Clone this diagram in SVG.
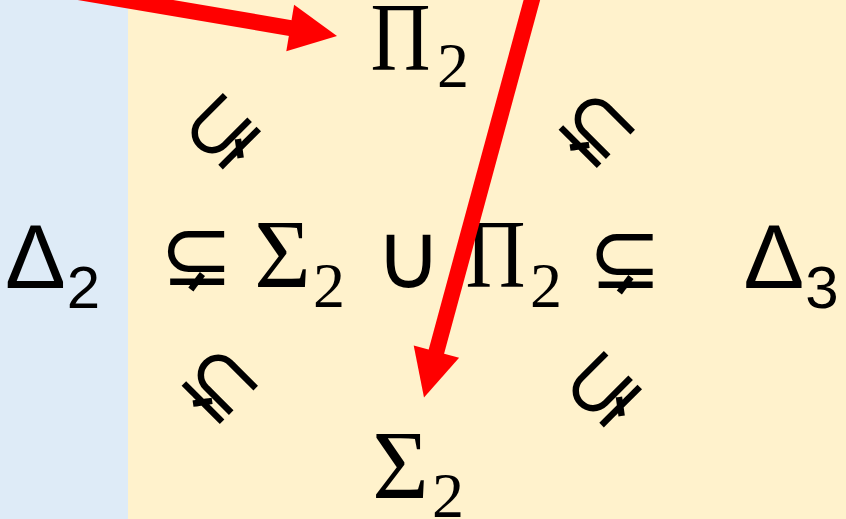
<svg xmlns="http://www.w3.org/2000/svg" width="846" height="519" viewBox="0 0 846 519">
<style>
.serif{font-family:"Liberation Serif","Times New Roman",serif;fill:#000}
.sans{font-family:"Liberation Sans",Arial,sans-serif;fill:#000}
.sym{font-family:"DejaVu Sans",sans-serif;fill:#000}
.big{font-size:97px}
.sub{font-size:64px}
.dbig{font-size:91px}
.dsub{font-size:60px}
.rel{font-size:88px}
.cup{font-size:92px}
.shaft{stroke:#FF0000;stroke-width:16;fill:none}
.head{fill:#FF0000}
</style>
<rect x="0" y="0" width="128" height="519" fill="#DEEBF7"/>
<rect x="128" y="0" width="718" height="519" fill="#FFF2CC"/>
<g id="pi2-top">
<text class="serif big" x="400.5" y="70" text-anchor="middle" textLength="60" lengthAdjust="spacingAndGlyphs">Π</text>
<text class="serif sub" x="453" y="87" text-anchor="middle">2</text>
</g>
<g id="sigma2-bottom">
<text class="serif big" x="400.5" y="498" text-anchor="middle">Σ</text>
<text class="serif sub" x="448" y="517" text-anchor="middle">2</text>
</g>
<g id="delta2">
<text class="sans dbig" x="35.5" y="288" text-anchor="middle">Δ</text>
<text class="sans dsub" x="83.5" y="308" text-anchor="middle">2</text>
</g>
<g id="middle">
<text class="sym rel" x="196.5" y="285" text-anchor="middle">⊊</text>
<text class="serif big" x="282.5" y="287" text-anchor="middle">Σ</text>
<text class="serif sub" x="329" y="307" text-anchor="middle">2</text>
<text class="sym cup" x="408.5" y="288" text-anchor="middle">∪</text>
<text class="serif big" x="495.5" y="287" text-anchor="middle" textLength="60" lengthAdjust="spacingAndGlyphs">Π</text>
<text class="serif sub" x="546" y="307" text-anchor="middle">2</text>
<text class="sym rel" x="625" y="288" text-anchor="middle">⊊</text>
</g>
<g id="delta3">
<text class="sans dbig" x="774" y="288" text-anchor="middle">Δ</text>
<text class="sans dsub" x="822" y="308" text-anchor="middle">3</text>
</g>
<g id="rel-ul"><text class="sym rel" x="0" y="0" text-anchor="middle" dominant-baseline="central" transform="translate(220,129) rotate(-45)">⊊</text></g>
<g id="rel-ur"><text class="sym rel" x="0" y="0" text-anchor="middle" dominant-baseline="central" transform="translate(599,127) rotate(45)">⊊</text></g>
<g id="rel-ll"><text class="sym rel" x="0" y="0" text-anchor="middle" dominant-baseline="central" transform="translate(222,383) rotate(45)">⊊</text></g>
<g id="rel-lr"><text class="sym rel" x="0" y="0" text-anchor="middle" dominant-baseline="central" transform="translate(601,387) rotate(-45)">⊊</text></g>
<g id="connectors">
<g id="arrow1">
<path class="shaft" d="M-60,-31.5 L292,28.3"/>
<polygon class="head" points="337,36 294.1,4.8 286.3,51.2"/>
</g>
<g id="arrow2">
<path class="shaft" d="M540,-30 L436,353"/>
<polygon class="head" points="424,397.5 459.1,357.8 413.7,345.6"/>
</g>
</g>
</svg>
